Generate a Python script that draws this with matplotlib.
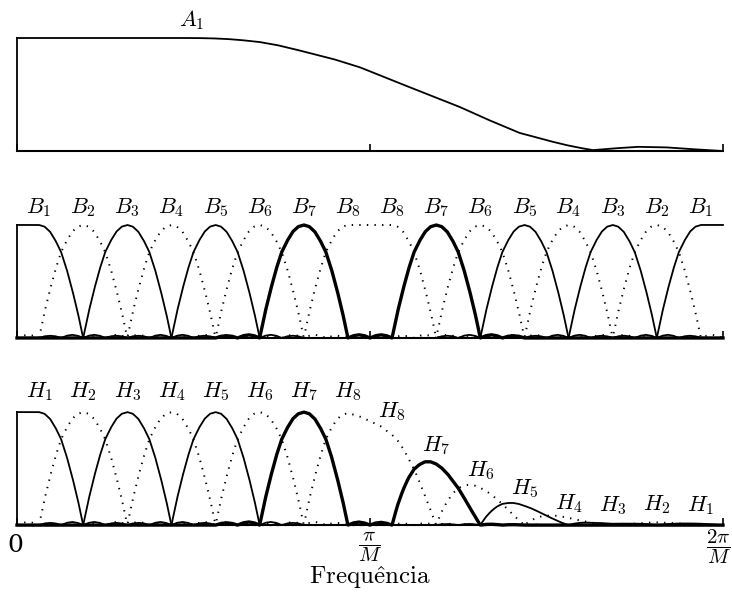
import numpy as np
import matplotlib.pyplot as plt

plt.rcParams['mathtext.fontset'] = 'cm'
plt.rcParams['font.family'] = 'serif'

# 16 sub-bands over [0, 2pi/M]; frequency axis normalised to 1 = 2pi/M
n_bands = 16
band_idx = [1, 2, 3, 4, 5, 6, 7, 8, 8, 7, 6, 5, 4, 3, 2, 1]

# shape of one band filter vs distance from its centre (in band widths)
bump_u = [0.0, 0.125, 0.25, 0.375, 0.5, 0.625, 0.75, 0.875, 1.0,
          1.125, 1.25, 1.375, 1.5, 1.625, 1.75, 1.875, 2.0]
bump_g = [1.0, 0.985, 0.94, 0.86, 0.76, 0.61, 0.43, 0.23, 0.0,
          0.02, 0.028, 0.02, 0.0, 0.015, 0.02, 0.015, 0.0]

# prototype lowpass A1
a1_freq = [0.0, 0.24, 0.26, 0.28, 0.30, 0.32, 0.344, 0.37, 0.40, 0.45,
           0.486, 0.55, 0.627, 0.67, 0.712, 0.76, 0.78, 0.80, 0.816,
           0.85, 0.88, 0.92, 0.96, 1.0]
a1_gain = [1.0, 1.0, 0.999, 0.996, 0.99, 0.98, 0.964, 0.935, 0.89, 0.81,
           0.74, 0.58, 0.39, 0.27, 0.16, 0.08, 0.05, 0.025, 0.008,
           0.025, 0.037, 0.032, 0.015, 0.0]

# gain applied to the bands in the H bank
env_freq = [0.0, 0.44, 0.47, 0.486, 0.514, 0.531, 0.56, 0.594, 0.625, 0.656,
            0.69, 0.719, 0.75, 0.78, 0.81, 0.84, 0.87, 0.90, 0.93, 0.97, 1.0]
env_gain = [1.0, 1.0, 0.99, 0.96, 0.88, 0.80, 0.66, 0.54, 0.43, 0.33,
            0.24, 0.17, 0.11, 0.065, 0.03, 0.012, 0.015, 0.025, 0.02, 0.012, 0.0]

b_label_y = [1.15] * 16
h_label_y = [1.18] * 8 + [1.00, 0.70, 0.48, 0.32, 0.19, 0.17, 0.18, 0.17]

w = np.linspace(0, 1, 2001)


def band(i):
    c = (i + 0.5) / n_bands
    g = np.interp(np.abs(w - c) * n_bands, bump_u, bump_g, right=0.0)
    if i == 0:
        g[w < c] = 1.0
    if i == n_bands - 1:
        g[w > c] = 1.0
    return g


def filt(k):
    # filter k covers band k-1 and its mirror image
    g = np.maximum(band(k - 1), band(n_bands - k))
    if k == 8:
        g[(w >= 7.5 / n_bands) & (w <= 8.5 / n_bands)] = 1.0
    return g


def style(k):
    if k == 7:
        return dict(color='black', lw=2.4, ls='-')
    if k % 2 == 1:
        return dict(color='black', lw=1.3, ls='-')
    return dict(color='black', lw=1.4, ls=(0, (0.7, 3.2)))


fig = plt.figure(figsize=(7.32, 5.92), dpi=100)
ax_a = fig.add_axes([0.0232, 0.7449, 0.9645, 0.1909])
ax_b = fig.add_axes([0.0232, 0.4291, 0.9645, 0.1909])
ax_h = fig.add_axes([0.0232, 0.1130, 0.9645, 0.1909])

for ax in (ax_a, ax_b, ax_h):
    ax.set_xlim(0, 1)
    ax.set_ylim(0, 1)
    ax.spines['top'].set_visible(False)
    ax.spines['right'].set_visible(False)
    ax.spines['left'].set_linewidth(1.3)
    ax.spines['bottom'].set_linewidth(1.5)
    ax.set_yticks([])
    ax.set_xticks([0, 0.5, 1.0])
    ax.tick_params(axis='x', direction='in', length=5, width=1.2, labelbottom=False)

# A1
ax_a.plot(a1_freq, a1_gain, color='black', lw=1.3, clip_on=False)
ax_a.text(0.248, 1.16, r'$A_1$', fontsize=16, ha='center', va='center')

# B bank and H bank
env = np.interp(w, env_freq, env_gain)
for k in range(1, 9):
    b = filt(k)
    ax_b.plot(w, b, clip_on=False, **style(k))
    ax_h.plot(w, b * env, clip_on=False, **style(k))

for i, k in enumerate(band_idx):
    x = (i + 0.5) / n_bands
    ax_b.text(x, b_label_y[i], r'$B_{%d}$' % k, fontsize=16, ha='center', va='center')
    ax_h.text(x, h_label_y[i], r'$H_{%d}$' % k, fontsize=16, ha='center', va='center')

# frequency axis labels
ax_h.text(-0.003, -0.18, '0', fontsize=18, ha='center', va='center')
ax_h.text(0.5, -0.19, r'$\dfrac{\pi}{M}$', fontsize=15, ha='center', va='center')
ax_h.text(1.011, -0.19, r'$\dfrac{2\pi}{M}$', fontsize=15, ha='right', va='center')
ax_h.text(0.5, -0.46, r'$\mathrm{Frequ\hat{e}ncia}$', fontsize=18, ha='center', va='center')

fig.savefig('out.png', dpi=100)
